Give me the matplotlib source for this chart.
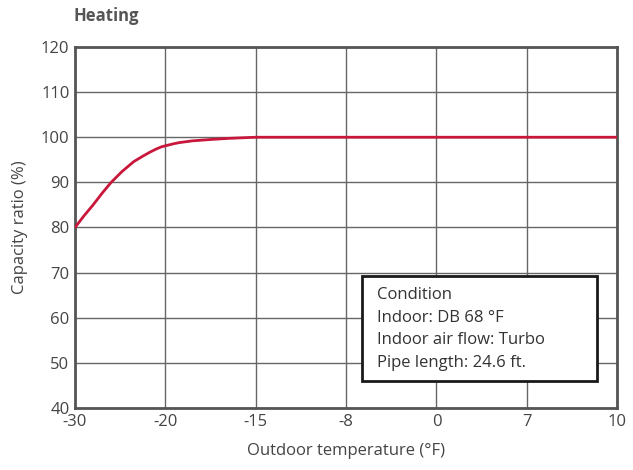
import matplotlib
matplotlib.use('Agg')
import matplotlib.pyplot as plt
from matplotlib.patches import Rectangle

# === data ===
x_labels = ['-30', '-20', '-15', '-8', '0', '7', '10']
# curve points: position along the (evenly spaced) category axis, capacity ratio (%)
curve_pos = [0, 0.1, 0.2, 0.3, 0.4, 0.52, 0.65, 0.75, 0.83, 0.9, 0.96, 1.0, 1.08, 1.15, 1.3, 1.5, 1.7, 2.0, 3, 4, 5, 6]
curve_val = [80, 82.6, 85, 87.6, 90, 92.4, 94.6, 95.8, 96.7, 97.4, 97.9, 98.1, 98.5, 98.8, 99.2, 99.5, 99.75, 100, 100, 100, 100, 100]
y_ticks = [40, 50, 60, 70, 80, 90, 100, 110, 120]
cond_lines = ['Condition', 'Indoor: DB 68 °F', 'Indoor air flow: Turbo', 'Pipe length: 24.6 ft.']

plt.rcParams['font.family'] = ['Open Sans', 'DejaVu Sans']
txt = '#444444'

fig = plt.figure(figsize=(6.33, 4.70), dpi=100)
ax = fig.add_axes([0.1185, 0.132, 0.8565, 0.768])

ax.plot(curve_pos, curve_val, color='#c8173a', lw=2, solid_capstyle='round',
        solid_joinstyle='round', zorder=3)

ax.set_xlim(0, len(x_labels) - 1)
ax.set_ylim(40, 120)
ax.set_xticks(range(len(x_labels)))
ax.set_xticklabels(x_labels)
ax.set_yticks(y_ticks)
ax.grid(True, color='#666666', lw=1)
ax.tick_params(length=0, labelsize=12, colors=txt, pad=4)
for s in ax.spines.values():
    s.set_color('#555555')
    s.set_linewidth(2)

ax.set_xlabel('Outdoor temperature (°F)', fontsize=12, color=txt, labelpad=10)
ax.set_ylabel('Capacity ratio (%)', fontsize=12, color=txt, labelpad=9)
fig.text(0.116, 0.965, 'Heating', fontsize=12, fontweight='bold', color='#555555', va='center', ha='left')

# === condition box ===
ax.add_patch(Rectangle((0.5295, 0.0748), 0.4335, 0.291, transform=ax.transAxes,
                       facecolor='white', edgecolor='#1a1a1a', lw=2, zorder=4))
for i, line in enumerate(cond_lines):
    ax.text(0.557, 0.312 - i * 0.0623, line, transform=ax.transAxes, fontsize=12,
            color='#333333', va='center', ha='left', zorder=5)

fig.savefig('out.png', dpi=100)
